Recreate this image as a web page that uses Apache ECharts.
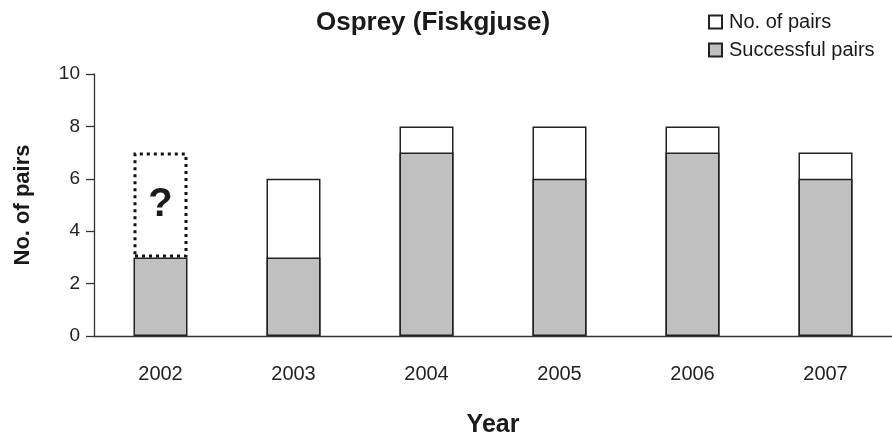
<!DOCTYPE html>
<html>
<head>
<meta charset="utf-8">
<script src="https://cdn.jsdelivr.net/npm/echarts@6/dist/echarts.min.js"></script>
<style>
  html, body { margin: 0; padding: 0; background: #fff; }
  #main { width: 892px; height: 443px; }
</style>
</head>
<body>
<div id="main"></div>
<script>
const years = ['2002', '2003', '2004', '2005', '2006', '2007'];
const totalPairs = [null, 6, 8, 8, 8, 7];
const successfulPairs = [3, 3, 7, 6, 7, 6];
// 2002: total unknown, dotted box from 3 up to about 7
const unknownPairs = [4, null, null, null, null, null];
const yTicks = [0, 2, 4, 6, 8, 10];

const chart = echarts.init(document.getElementById('main'));
const font = 'Liberation Sans, Arial, sans-serif';

option = {
    animation: false,
    backgroundColor: '#fff',
    title: {
        text: 'Osprey (Fiskgjuse)',
        left: 428,
        top: 5,
        textAlign: 'center',
        textStyle: { fontFamily: font, fontSize: 26, fontWeight: 'bold', color: '#1a1a1a' }
    },
    legend: {
        orient: 'vertical',
        left: 703,
        top: 7,
        itemGap: 8,
        itemWidth: 13,
        itemHeight: 13,
        icon: 'rect',
        data: ['No. of pairs', 'Successful pairs'],
        textStyle: { fontFamily: font, fontSize: 20, color: '#1a1a1a', padding: [0, 0, 0, 2] }
    },
    grid: { left: 94, top: 74, width: 804, height: 265 },
    xAxis: {
        type: 'category',
        data: years,
        name: 'Year',
        nameLocation: 'middle',
        nameGap: 77,
        nameTextStyle: { fontFamily: font, fontSize: 25, fontWeight: 'bold', color: '#1a1a1a', verticalAlign: 'top' },
        axisLine: { lineStyle: { color: '#333', width: 1.3 } },
        axisTick: { length: 8, lineStyle: { color: '#333', width: 1.3 } },
        axisLabel: { fontFamily: font, fontSize: 20, color: '#222', margin: 28 }
    },
    yAxis: {
        type: 'value',
        min: yTicks[0],
        max: yTicks[yTicks.length - 1],
        interval: 2,
        name: 'No. of pairs',
        nameLocation: 'middle',
        nameGap: 60,
        nameTextStyle: { fontFamily: font, fontSize: 22, fontWeight: 'bold', color: '#1a1a1a' },
        axisLine: { show: true, lineStyle: { color: '#333', width: 1.3 } },
        axisTick: { show: true, length: 8, lineStyle: { color: '#333', width: 1.3 } },
        axisLabel: { fontFamily: font, fontSize: 19, color: '#222', margin: 14 },
        splitLine: { show: false }
    },
    series: [
        {
            name: 'No. of pairs',
            type: 'bar',
            data: totalPairs,
            barWidth: 54,
            barGap: '-100%',
            itemStyle: { color: '#fff', borderColor: '#222', borderWidth: 1.5 }
        },
        {
            name: 'Successful pairs',
            type: 'bar',
            stack: 'ok',
            data: successfulPairs,
            barWidth: 54,
            itemStyle: { color: '#c0c0c0', borderColor: '#222', borderWidth: 1.5 }
        },
        {
            name: 'unknown',
            type: 'bar',
            stack: 'ok',
            data: unknownPairs,
            barWidth: 54,
            itemStyle: { color: 'rgba(0,0,0,0)', borderColor: '#111', borderWidth: 3, borderType: [3, 4] },
            label: {
                show: true,
                position: 'inside',
                formatter: '?',
                fontFamily: font,
                fontSize: 40,
                fontWeight: 'bold',
                color: '#1a1a1a'
            }
        }
    ]
};

chart.setOption(option);
</script>
</body>
</html>
